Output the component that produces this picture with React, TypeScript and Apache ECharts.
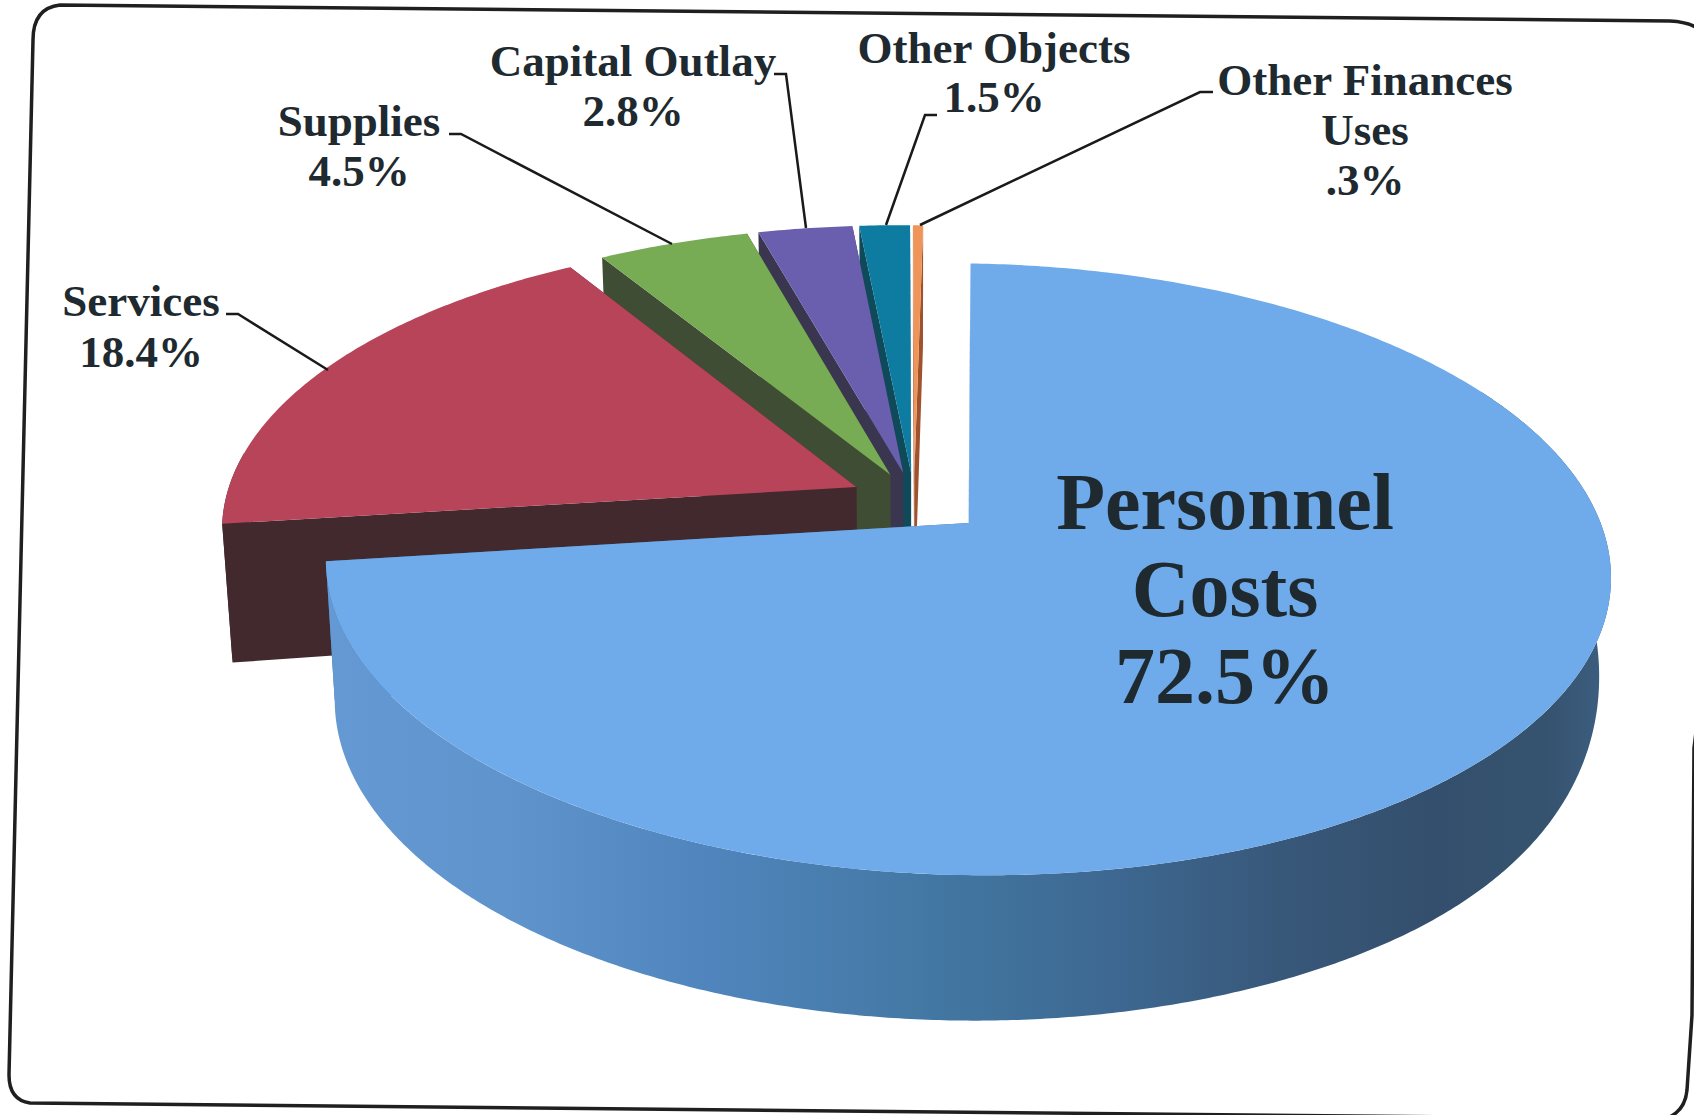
import React, { useEffect, useRef } from "react";
import * as echarts from "echarts";

// ---- data ----
const categories = ["Personnel Costs", "Services", "Supplies", "Capital Outlay", "Other Objects", "Other Finances Uses"];
const values = [72.5, 18.4, 4.5, 2.8, 1.5, 0.3];
const labelLines = [
  ["Personnel", "Costs", "72.5%"],
  ["Services", "18.4%"],
  ["Supplies", "4.5%"],
  ["Capital Outlay", "2.8%"],
  ["Other Objects", "1.5%"],
  ["Other Finances", "Uses", ".3%"],
];
const topColors = ["#6FABEA", "#B8445A", "#77AB54", "#6A5FAE", "#0D7CA0", "#F0955A"];
const wallColors = ["#3F6F9E", "#41292D", "#3F4D34", "#3A3650", "#0F4A5A", "#A0522D"];
const explosions = [0.115, 0.102, 0.095, 0.095, 0.095, 0.095];

// ---- layout ----
const WIDTH = 1694;
const HEIGHT = 1115;
const CX = 914;
const CY = 500;
const RX = 628;
const RY = 292;
const PERSPECTIVE = 0.15;
const DEPTH = 132;
const labelLayout: { x: number; ys: number[]; size: number }[] = [
  { x: 1225, ys: [502, 589, 676], size: 80 },
  { x: 141, ys: [301, 352], size: 45 },
  { x: 359, ys: [121, 171], size: 45 },
  { x: 633, ys: [61, 111], size: 45 },
  { x: 994, ys: [48, 97], size: 45 },
  { x: 1365, ys: [80, 130, 180], size: 45 },
];
const leaderLayout: number[][][] = [
  [],
  [[226, 314], [238, 314], [328, 370]],
  [[449, 134], [461, 134], [672, 244]],
  [[774, 74], [786, 74], [806, 228]],
  [[937, 115], [925, 115], [886, 225]],
  [[1213, 92], [1200, 92], [920, 225]],
];

const FRAME_D =
  "M33,40 Q33,8 60,5 L1670,21 Q1690,22 1700,30 L1700,700 L1694,748 L1692,1015 L1687,1090 Q1685,1112 1665,1119 L30,1103 Q9,1100 9,1075 Z";
echarts.graphic.registerShape("pageFrame", echarts.graphic.extendPath(FRAME_D, {}));

const total = values.reduce((a, b) => a + b, 0);
const starts: number[] = [];
values.reduce((acc, v, i) => {
  starts[i] = acc;
  return acc + v;
}, 0);

function project(u: number, v: number, low: boolean): number[] {
  const s = 1 / (1 - PERSPECTIVE * v);
  const x = RX * u * s;
  const y = RY * v * s;
  const skewX = x - 0.035 * y;
  const skewY = y + 0.015 * x;
  if (!low) return [CX + skewX, CY + skewY];
  const t = Math.min(1, Math.max(0, 1 - y / 300));
  const lift = x > 0 ? 50 * t * t * Math.min(1, x / 300) : 0;
  return [
    CX + skewX * (skewX > 0 ? 0.983 : 0.985),
    CY + y * 1.0375 + 0.007 * x + DEPTH - lift,
  ];
}

function renderSlice(_params: any, api: any) {
  const value = api.value(0) as number;
  const i = api.value(1) as number;
  const a0 = (starts[i] / total) * Math.PI * 2;
  const a1 = ((starts[i] + value) / total) * Math.PI * 2;
  const mid = (a0 + a1) / 2;
  const ox = explosions[i] * Math.sin(mid);
  const oy = -explosions[i] * Math.cos(mid);
  const rim = (a: number, low: boolean) => project(ox + Math.sin(a), oy - Math.cos(a), low);
  const apex = (low: boolean) => project(ox, oy, low);

  const steps = Math.max(4, Math.ceil((a1 - a0) / 0.01));
  const arc = (from: number, to: number, low: boolean, n: number) => {
    const pts: number[][] = [];
    for (let k = 0; k <= n; k++) pts.push(rim(from + ((to - from) * k) / n, low));
    return pts;
  };

  const children: any[] = [];
  const wall = wallColors[i];
  children.push({
    type: "polygon",
    shape: { points: [rim(a1, false), apex(false), apex(true), rim(a1, true)] },
    style: { fill: wall },
  });
  // outer wall, only the part facing the viewer
  const fa0 = Math.max(a0, (60 * Math.PI) / 180);
  const fa1 = Math.min(a1, (275 * Math.PI) / 180);
  if (fa1 > fa0) {
    const top = arc(fa0, fa1, false, steps);
    const bottom = arc(fa1, fa0, true, steps);
    children.push({
      type: "polygon",
      shape: { points: top.concat(bottom) },
      style: {
        fill:
          i === 0
            ? new echarts.graphic.LinearGradient(0, 0, 1, 0, [
                { offset: 0, color: "#6499D3" },
                { offset: 0.15, color: "#5E93CC" },
                { offset: 0.3, color: "#4F85BC" },
                { offset: 0.5, color: "#41759F" },
                { offset: 0.62, color: "#3D6790" },
                { offset: 0.74, color: "#38587A" },
                { offset: 0.86, color: "#344F6D" },
                { offset: 0.95, color: "#35536F" },
                { offset: 1, color: "#3E5F82" },
              ])
            : wall,
      },
    });
  }
  children.push({
    type: "polygon",
    shape: { points: [rim(a0, false), apex(false), apex(true), rim(a0, true)] },
    style: { fill: wall },
  });
  // top face
  children.push({
    type: "polygon",
    shape: { points: [apex(false), ...arc(a0, a1, false, steps)] },
    style: { fill: topColors[i] },
  });
  return { type: "group", children };
}

function renderLabel(_params: any, api: any) {
  const i = api.value(0) as number;
  const layout = labelLayout[i];
  const children: any[] = labelLines[i].map((line, k) => ({
    type: "text",
    style: {
      text: line,
      x: layout.x,
      y: layout.ys[k],
      align: "center",
      verticalAlign: "middle",
      fill: "#1E2A30",
      font: `bold ${layout.size}px "Liberation Serif"`,
    },
  }));
  if (leaderLayout[i].length) {
    children.push({
      type: "polyline",
      shape: { points: leaderLayout[i] },
      style: { stroke: "#1A1A1A", lineWidth: 2.5, fill: "none" },
    });
  }
  return { type: "group", children };
}

export default function App() {
  const ref = useRef<HTMLDivElement>(null);
  useEffect(() => {
    document.body.style.margin = "0";
    document.body.style.overflow = "hidden";
    const chart = echarts.init(ref.current!, null, { renderer: "svg" });
    const order = values.map((_, i) => values.length - 1 - i);
    chart.setOption({
      animation: false,
      backgroundColor: "#FFFFFF",
      graphic: {
        elements: [
          {
            type: "pageFrame",
            x: 0,
            y: 0,
            z: 0,
            silent: true,
            style: { fill: "#FFFFFF", stroke: "#1F1F1F", lineWidth: 3.5 },
          },
        ],
      },
      series: [
        {
          type: "custom",
          coordinateSystem: "none",
          name: "Slices",
          z: 2,
          silent: true,
          renderItem: renderSlice,
          data: order.map((i) => ({ name: categories[i], value: [values[i], i] })),
        },
        {
          type: "custom",
          coordinateSystem: "none",
          name: "Labels",
          z: 3,
          silent: true,
          renderItem: renderLabel,
          data: categories.map((name, i) => ({ name, value: [i] })),
        },
      ],
    });
    return () => chart.dispose();
  }, []);
  return <div ref={ref} style={{ width: WIDTH, height: HEIGHT }} />;
}
